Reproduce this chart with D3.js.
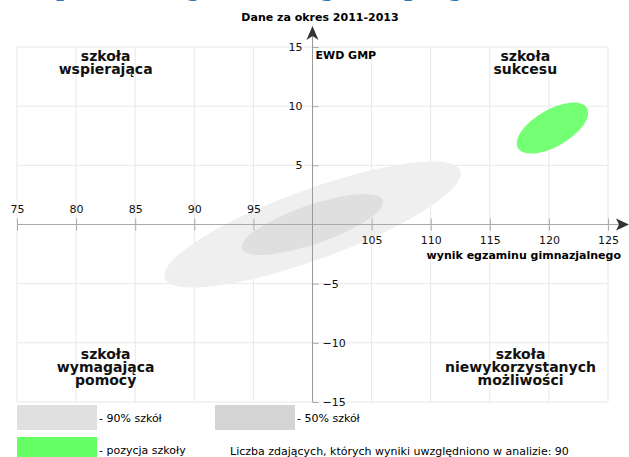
<!DOCTYPE html>
<html>
<head>
<meta charset="utf-8">
<script src="https://d3js.org/d3.v7.min.js"></script>
<style>
body { margin: 0; background: #fff; }
text { font-family: "DejaVu Sans", sans-serif; }
</style>
</head>
<body>
<script>
// values
var xTicks = [75, 80, 85, 90, 95, 105, 110, 115, 120, 125];
var yTicks = [15, 10, 5, -5, -10, -15];
var gridX = [75, 80, 85, 90, 95, 100, 105, 110, 115, 120, 125];
var gridY = [-15, -10, -5, 0, 5, 10, 15];

// ellipses: centre (x, y), semi axes in data units, angle in degrees
var ellipses = [
    {name: "90", cx: 100, cy: 0, rx: 13.3, ry: 2.95, angle: 20, fill: "#efefef", opacity: 1},
    {name: "50", cx: 100, cy: 0, rx: 6.3, ry: 1.65, angle: 19, fill: "#dfdfdf", opacity: 1},
    {name: "school", cx: 120.3, cy: 8.15, rx: 3.38, ry: 1.55, angle: 30, fill: "#5cff5c", opacity: 0.85}
];

var quadrantLabels = [
    {lines: ["szkoła", "wspierająca"], x: 82.5, y: 13.8},
    {lines: ["szkoła", "sukcesu"], x: 118, y: 13.8},
    {lines: ["szkoła", "wymagająca", "pomocy"], x: 82.5, y: -11.4},
    {lines: ["szkoła", "niewykorzystanych", "możliwości"], x: 117.6, y: -11.4}
];

var legendItems = [
    {label: "- 90% szkół", fill: "#e0e0e0", col: 0, row: 0},
    {label: "- 50% szkół", fill: "#d4d4d4", col: 1, row: 0},
    {label: "- pozycja szkoły", fill: "#66ff66", col: 0, row: 1}
];

var width = 629, height = 457;

var svg = d3.select("body").append("svg")
    .attr("width", width)
    .attr("height", height);

var x = d3.scaleLinear().domain([75, 125]).range([17, 608]);
var y = d3.scaleLinear().domain([-15, 15]).range([402, 47]);

// cut-off heading above the picture
svg.append("text")
    .attr("y", -4.5)
    .attr("fill", "#2a7ab8")
    .style("font-family", "DejaVu Serif")
    .style("font-size", "22px")
    .style("font-weight", "bold")
    .selectAll("tspan")
    .data([{c: "p", x: 56}, {c: "g", x: 186}, {c: "g", x: 320}, {c: "p", x: 404}, {c: "g", x: 448}])
    .enter().append("tspan")
    .attr("x", function(d) { return d.x; })
    .text(function(d) { return d.c; });

svg.append("text")
    .attr("x", 320)
    .attr("y", 21)
    .attr("text-anchor", "middle")
    .style("font-size", "11px")
    .style("font-weight", "bold")
    .text("Dane za okres 2011-2013");

// grid
svg.append("g").selectAll("line.gx")
    .data(gridX).enter().append("line")
    .attr("x1", function(d) { return x(d); })
    .attr("x2", function(d) { return x(d); })
    .attr("y1", y(15)).attr("y2", y(-15))
    .attr("stroke", "#e8e8e8");

svg.append("g").selectAll("line.gy")
    .data(gridY).enter().append("line")
    .attr("x1", x(75)).attr("x2", x(125))
    .attr("y1", function(d) { return y(d); })
    .attr("y2", function(d) { return y(d); })
    .attr("stroke", "#e8e8e8");

// ellipses
var kx = x(1) - x(0), ky = y(0) - y(1);
svg.append("g").selectAll("ellipse")
    .data(ellipses).enter().append("ellipse")
    .attr("cx", 0).attr("cy", 0)
    .attr("rx", function(d) { return d.rx * kx; })
    .attr("ry", function(d) { return d.ry * ky; })
    .attr("transform", function(d) {
        return "translate(" + x(d.cx) + "," + y(d.cy) + ") rotate(" + (-d.angle) + ")";
    })
    .attr("fill", function(d) { return d.fill; })
    .attr("fill-opacity", function(d) { return d.opacity; });

// quadrant labels
quadrantLabels.forEach(function(q) {
    svg.append("text")
        .attr("text-anchor", "middle")
        .style("font-size", "14px")
        .style("font-weight", "bold")
        .attr("fill", "#111")
        .selectAll("tspan")
        .data(q.lines).enter().append("tspan")
        .attr("x", x(q.x))
        .attr("y", function(d, i) { return y(q.y) + i * 13; })
        .text(function(d) { return d; });
});

// x axis
var xAxis = svg.append("g")
    .attr("transform", "translate(0," + y(0) + ")")
    .call(d3.axisBottom(x).tickValues(xTicks).tickSize(6).tickSizeOuter(0));
xAxis.select(".domain").remove();
xAxis.selectAll(".tick line").attr("y1", -6).attr("stroke", "#aaa");
xAxis.selectAll(".tick text")
    .attr("y", function(d) { return d < 100 ? -19 : 12; })
    .attr("dy", "0.71em")
    .style("font-size", "11px")
    .style("font-family", "DejaVu Sans")
    .attr("fill", "#111");
svg.append("line")
    .attr("x1", x(75)).attr("x2", 620)
    .attr("y1", y(0)).attr("y2", y(0))
    .attr("stroke", "#aaa");
svg.append("path")
    .attr("d", "M629," + y(0) + "L616," + (y(0) - 6) + "L619," + y(0) + "L616," + (y(0) + 6) + "Z")
    .attr("fill", "#333");
svg.append("text")
    .attr("x", 621)
    .attr("y", 259)
    .attr("text-anchor", "end")
    .style("font-size", "11px")
    .style("font-weight", "bold")
    .text("wynik egzaminu gimnazjalnego");

// y axis
var yAxis = svg.append("g")
    .attr("transform", "translate(" + x(100) + ",0)")
    .call(d3.axisLeft(y).tickValues(yTicks).tickSize(6).tickSizeOuter(0));
yAxis.select(".domain").remove();
yAxis.selectAll(".tick line").attr("x2", 6).attr("stroke", "#aaa");
yAxis.selectAll(".tick text")
    .attr("x", function(d) { return d > 0 ? -10 : 10; })
    .attr("text-anchor", function(d) { return d > 0 ? "end" : "start"; })
    .style("font-size", "11px")
    .style("font-family", "DejaVu Sans")
    .attr("fill", "#111");
svg.append("line")
    .attr("x1", x(100)).attr("x2", x(100))
    .attr("y1", y(-15)).attr("y2", 36)
    .attr("stroke", "#999");
svg.append("path")
    .attr("d", "M" + x(100) + ",26L" + (x(100) - 6) + ",40L" + x(100) + ",36L" + (x(100) + 6) + ",40Z")
    .attr("fill", "#333");
svg.append("text")
    .attr("x", x(100) + 3)
    .attr("y", 59)
    .style("font-size", "11px")
    .style("font-weight", "bold")
    .text("EWD GMP");

// legend
var legend = svg.append("g").selectAll("g")
    .data(legendItems).enter().append("g")
    .attr("transform", function(d) {
        return "translate(" + (17 + d.col * 198) + "," + (405 + d.row * 32) + ")";
    });
legend.append("rect")
    .attr("width", 80).attr("height", 25)
    .attr("fill", function(d) { return d.fill; });
legend.append("text")
    .attr("x", 82).attr("y", 17)
    .style("font-size", "11px")
    .text(function(d) { return d.label; });

svg.append("text")
    .attr("x", 230).attr("y", 455)
    .style("font-size", "11px")
    .text("Liczba zdających, których wyniki uwzględniono w analizie: 90");
</script>
</body>
</html>
